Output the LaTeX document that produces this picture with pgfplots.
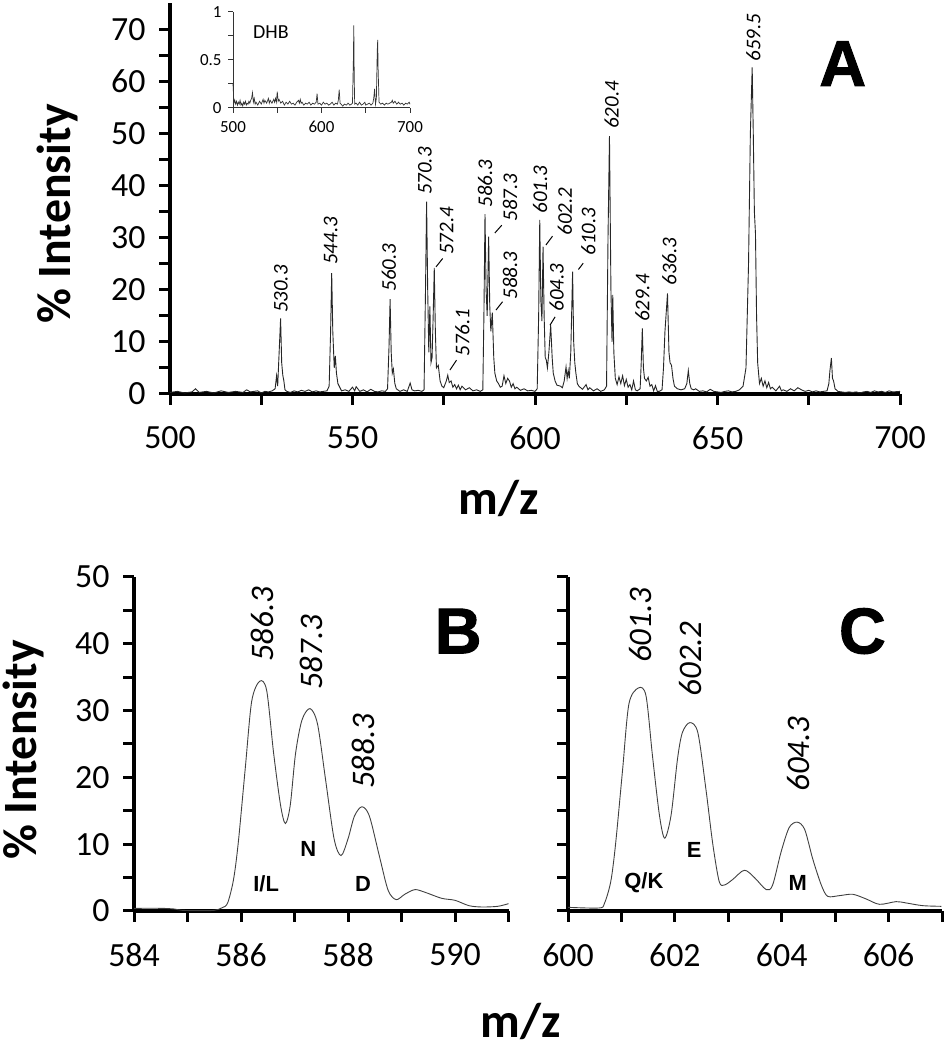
\documentclass[border=0pt]{standalone}
\usepackage{fontspec}
\setmainfont{Carlito}
\newfontfamily\lsans{Liberation Sans}
\newfontfamily\heavy{Liberation Sans}[BoldFeatures={FakeBold=1.5}]
\usepackage{pgfplots}
\pgfplotsset{compat=1.18}
\pgfplotsset{
  spec/.style={scale only axis, axis lines=left, axis line style={-, line width=3.2bp, black},
    every tick/.style={black, line width=3bp}, major tick style={black, line width=3bp},
    minor tick style={black, line width=3bp}, tick align=outside,
    major tick length=11bp, minor tick length=11bp, clip=false,
    /pgf/number format/assume math mode=true,
    tick label style={font=\fontsize{34}{34}\selectfont},
    xticklabel style={yshift=-18bp}, yticklabel style={xshift=-10bp}},
}
\tikzset{
  plab/.style={rotate=90, font=\fontsize{21}{21}\selectfont\itshape, inner sep=0pt},
  blab/.style={rotate=90, font=\fontsize{33}{33}\selectfont\itshape, inner sep=0pt},
  aa/.style={font=\lsans\bfseries\fontsize{22}{22}\selectfont, inner sep=0pt},
  big/.style={font=\heavy\bfseries\fontsize{65}{65}\selectfont, inner sep=0pt},
}
\begin{document}
\begin{tikzpicture}[x=1bp,y=1bp]
\useasboundingbox (0,0) rectangle (945,1050);
% ---------------- Panel A ----------------
\begin{axis}[spec, at={(170bp,656bp)}, anchor=south west, width=730bp, height=390.75bp,
  xmin=500, xmax=700, ymin=0, ymax=75,
  xtick={500,550,600,650,700}, minor xtick={525,575,625,675},
  ytick={0,10,...,70}, minor ytick={5,15,...,65}]
\addplot[black!85, line width=0.9bp] coordinates {
(500,0.3)(502,0.5)(504,0.2)(506,0.4)(507,1.0)(508,0.3)(510,0.5)(512,0.2)(514,0.6)(516,0.3)(518,0.5)(520,0.3)(521,0.8)(522,0.4)(524,0.6)(525,0.2)(526,0.5)(527,0.4)(528,0.6)
(528.8,1.0)(529.2,3.5)(529.5,1.5)(529.9,8)(530.3,14.5)(530.6,6)(530.9,3.6)(531.2,2.5)(531.5,0.8)(532,0.5)(533,0.3)(534,0.6)(535,0.4)(536,0.7)(537,0.5)(538,0.8)(539,0.4)(540,0.6)(541,0.4)(542,0.5)(543,0.6)
(543.6,1.5)(544,12)(544.3,23.2)(544.6,12)(545,5)(545.3,7.3)(545.6,4)(546,2)(546.5,1.3)(547,0.6)(548,0.8)(549,0.5)(550,1.3)(550.6,0.6)(551,1.4)(552,0.5)(553,0.8)(554,0.4)(555,0.9)(556,0.5)(557,0.4)(558,0.6)(559,0.5)
(559.6,1)(560,9)(560.3,18.2)(560.6,8)(560.9,4)(561.2,4.8)(561.6,2)(562,1)(563,0.5)(564,0.8)(565,0.5)(565.8,2.1)(566.3,0.8)(567,0.6)(568,0.7)(569,0.5)
(569.6,0.8)(570,20)(570.3,36.9)(570.6,20)(570.9,8)(571.2,16.8)(571.5,6)(571.8,7)(572.1,15)(572.4,24.2)(572.7,12)(573,5)(573.5,5.5)(574,2.5)(574.5,1.5)(575,1.2)(575.7,2.5)(576.1,3.6)(576.5,2.2)(577,2.5)(577.5,1.3)(578,1.8)(578.5,1)(579,1.7)(579.5,0.8)(580,1.5)(581,0.8)(582,1.2)(583,0.6)(584,0.8)(585,0.5)
(585.7,0.8)(586,15)(586.3,34.5)(586.6,20)(586.9,15)(587.3,30.2)(587.6,17)(587.9,12)(588.3,15.6)(588.7,7)(589,4)(589.5,2.5)(590,2)(590.5,1.3)(591,1.5)(591.5,3.5)(592,2)(592.5,3)(593,2.5)(593.5,1.3)(594,2)(594.5,1)(595,1.3)(596,0.7)(597,1)(598,0.6)(599,0.7)(600,0.5)
(600.6,1)(601,15)(601.3,33.4)(601.6,18)(601.9,14)(602.2,28.3)(602.5,15)(602.8,7)(603.1,6.5)(603.4,5)(603.8,8)(604.3,13.2)(604.7,7)(605,4)(605.5,2.5)(606,1.7)(607,1.5)(607.5,1.2)(608,2.5)(608.5,5.2)(608.8,3)(609.1,4.5)(609.4,3)(609.8,8)(610.3,23.5)(610.6,10)(610.9,6)(611.2,4)(611.6,2)(612,1.5)(613,0.9)(614,1.8)(614.5,0.8)(615,1.2)(616,0.6)(617,1)(618,0.5)(619,0.8)
(619.6,1.5)(620,30)(620.4,49.5)(620.8,20)(621.1,10)(621.3,19)(621.6,8)(622,3)(622.5,1.8)(623,3.3)(623.5,2)(624,3.5)(624.5,1.6)(625,2.8)(625.5,1.3)(626,1.8)(626.5,0.8)(627,2.5)(627.5,0.8)(628,0.6)
(628.8,1)(629.1,6)(629.4,12.6)(629.7,5)(630,3)(630.5,2.5)(631,3.2)(631.5,1.5)(632,1.8)(632.5,0.6)(633,1.6)(633.5,0.5)(634,0.5)
(634.8,0.8)(635.2,5)(635.6,12)(636.3,19.3)(636.7,8)(637,6)(637.4,5.5)(637.8,3)(638.2,1.5)(639,1)(640,0.8)(641,1)(641.6,2)(642,4.5)(642.4,2)(642.8,1)(643.5,0.8)(644,1)(645,0.5)(646,0.6)(647,0.4)(648,0.9)(649,0.5)(650,0.4)(651,0.3)(652,0.5)(653,0.6)(654,0.4)(655,0.5)(656,0.8)
(657,1.5)(657.8,5)(658.5,25)(659,50)(659.5,62.7)(659.8,50)(660.1,35)(660.4,30.8)(660.7,15)(661,6)(661.5,2)(662,3)(662.5,1.5)(663,2.5)(663.5,1.2)(664,2.2)(664.5,1)(665,1.3)(666,0.6)(667,1.5)(667.5,0.6)(668,0.8)(669,0.5)(670,1)(671,0.6)(672,1.2)(673,0.8)(674,0.5)(675,0.7)(676,0.4)(677,0.6)(678,0.4)(679,0.5)(680,0.6)
(680.5,2)(680.8,4.5)(681.2,6.9)(681.5,3)(681.8,2.5)(682.2,1)(683,0.5)(684,0.4)(685,0.3)(686,0.4)(687,0.3)(688,0.4)(689,0.2)(690,0.4)(691,0.5)(692,0.3)(693,0.6)(694,0.4)(695,0.5)(696,0.3)(697,0.6)(698,0.4)(700,0.5)
};
\node[plab] at (axis cs:530.36,20.15) {530.3};
\node[plab] at (axis cs:544.05,29.4) {544.3};
\node[plab] at (axis cs:560.0,24.3) {560.3};
\node[plab] at (axis cs:569.86,42.8) {570.3};
\node[plab] at (axis cs:575.8,31.3) {572.4};
\node[plab] at (axis cs:580.1,11.8) {576.1};
\node[plab] at (axis cs:586.3,40.4) {586.3};
\node[plab] at (axis cs:593.15,37.7) {587.3};
\node[plab] at (axis cs:593.15,22.7) {588.3};
\node[plab] at (axis cs:601.4,39.2) {601.3};
\node[plab] at (axis cs:608.2,35.0) {602.2};
\node[plab] at (axis cs:605.9,20.4) {604.3};
\node[plab] at (axis cs:614.6,31.2) {610.3};
\node[plab] at (axis cs:621.0,55.5) {620.4};
\node[plab] at (axis cs:629.45,18.4) {629.4};
\node[plab] at (axis cs:636.8,25.4) {636.3};
\node[plab] at (axis cs:659.8,68.4) {659.5};
\draw[line width=1bp] (axis cs:572.88,24.4) -- (axis cs:574.7,26.0);
\draw[line width=1bp] (axis cs:576.7,4.6) -- (axis cs:578.5,6.5);
\draw[line width=1bp] (axis cs:589.0,30.9) -- (axis cs:590.9,32.4);
\draw[line width=1bp] (axis cs:589.3,16.1) -- (axis cs:591.1,17.7);
\draw[line width=1bp] (axis cs:603.0,28.6) -- (axis cs:604.8,30.3);
\draw[line width=1bp] (axis cs:604.1,13.2) -- (axis cs:605.5,14.8);
\draw[line width=1bp] (axis cs:611.9,23.9) -- (axis cs:613.2,25.1);
\node[big] at (axis cs:684.3,63.4) {A};
\end{axis}
% ---------------- Inset ----------------
\begin{axis}[scale only axis, at={(233bp,942bp)}, anchor=south west, width=177bp, height=96bp,
  axis lines=left, axis line style={-, line width=1bp, black!80},
  every tick/.style={black!80, line width=1bp}, tick align=outside,
  major tick length=5bp, minor tick length=5bp,
  xmin=500, xmax=700, ymin=0, ymax=1,
  xtick={500,600,700}, minor xtick={550,650},
  ytick={0,0.5,1}, minor ytick={0.25,0.75},
  /pgf/number format/assume math mode=true,
  tick label style={font=\fontsize{17}{17}\selectfont},
  xticklabel style={yshift=-5bp}, yticklabel style={xshift=-3bp}, clip=false]
\addplot[black!80, line width=0.7bp] coordinates {
(500,0.25)(501,0.05)(502,0.08)(503,0.04)(504,0.07)(505,0.03)(506,0.06)(507,0.04)(508,0.08)(509,0.03)(510,0.05)(511,0.02)(512,0.06)(513,0.04)(514,0.07)(515,0.03)(516,0.05)(517,0.04)(518,0.07)(519,0.05)(520,0.08)(521,0.1)(522,0.16)(523,0.06)(524,0.1)(525,0.04)(526,0.06)(528,0.03)(530,0.07)(532,0.04)(534,0.09)(535,0.05)(536,0.08)(538,0.05)(540,0.1)(541,0.05)(542,0.08)(544,0.05)(546,0.09)(547,0.06)(548,0.1)(549,0.06)(550,0.17)(551,0.07)(552,0.09)(554,0.05)(556,0.07)(558,0.03)(560,0.06)(562,0.04)(564,0.07)(566,0.04)(568,0.05)(570,0.03)(572,0.06)(574,0.08)(575,0.05)(576,0.09)(577,0.05)(578,0.06)(580,0.03)(582,0.05)(584,0.04)(586,0.06)(588,0.03)(590,0.05)(592,0.04)(594,0.06)(595,0.15)(596,0.04)(598,0.05)(600,0.03)(602,0.06)(604,0.04)(606,0.05)(608,0.03)(610,0.04)(612,0.06)(614,0.03)(616,0.05)(618,0.04)(619,0.08)(620,0.19)(621,0.05)(622,0.04)(624,0.02)(626,0.04)(628,0.03)(630,0.05)(632,0.03)(634,0.04)(635,0.05)(636,0.5)(636.5,0.86)(637,0.3)(637.5,0.04)(639,0.05)(641,0.03)(643,0.06)(645,0.03)(647,0.04)(649,0.06)(650,0.03)(652,0.04)(654,0.05)(656,0.03)(658,0.05)(659,0.1)(660,0.2)(661,0.04)(662,0.1)(663,0.6)(663.5,0.71)(664,0.4)(665,0.06)(667,0.04)(669,0.05)(671,0.03)(673,0.05)(675,0.04)(677,0.05)(679,0.06)(680,0.08)(681,0.05)(683,0.07)(685,0.04)(687,0.06)(689,0.04)(691,0.05)(693,0.03)(695,0.05)(697,0.04)(699,0.06)(700,0.04)
};
\node[font=\fontsize{20}{20}\selectfont] at (axis cs:542.9,0.795) {DHB};
\end{axis}
% ---------------- Panel B ----------------
\begin{axis}[spec, at={(134bp,139bp)}, anchor=south west, width=374.5bp, height=334bp,
  xmin=584, xmax=591, ymin=0, ymax=50,
  xtick={584,586,588,590}, minor xtick={585,587,589,591},
  ytick={0,10,...,50}, minor ytick={5,15,...,45}]
\addplot[black!75, line width=0.9bp, smooth] coordinates {
(584,0.4)(584.5,0.4)(584.75,0.3)(584.9,0.1)(585.2,0.05)(585.5,0.1)(585.65,0.5)(585.75,1.2)(585.86,4.7)(585.95,10.3)(586.08,21.4)(586.2,31.4)(586.35,34.4)(586.48,33)(586.61,23.6)(586.74,15.8)(586.83,13.1)(586.92,15.8)(587.02,23.6)(587.14,28.6)(587.29,30.3)(587.43,28)(587.58,19.7)(587.74,10.8)(587.87,8.3)(588.0,10.8)(588.12,14.2)(588.26,15.6)(588.4,14.2)(588.59,8.1)(588.75,3.1)(588.9,1.7)(589.06,2.5)(589.25,3.2)(589.44,2.8)(589.75,1.9)(590,1.6)(590.26,0.8)(590.5,0.6)(590.8,0.7)(591,1.1)
};
\node[blab] at (axis cs:586.40,42.9) {586.3};
\node[blab] at (axis cs:587.32,38.7) {587.3};
\node[blab] at (axis cs:588.29,23.9) {588.3};
\node[aa] at (axis cs:586.47,4.0) {I/L};
\node[aa] at (axis cs:587.26,9.3) {N};
\node[aa] at (axis cs:588.28,4.0) {D};
\node[big] at (axis cs:590.06,41.9) {B};
\end{axis}
% ---------------- Panel C ----------------
\begin{axis}[spec, at={(568bp,139bp)}, anchor=south west, width=374bp, height=334bp,
  xmin=600, xmax=607, ymin=0, ymax=50,
  xtick={600,602,604,606}, minor xtick={601,603,605,607},
  ytick={0,10,...,50}, minor ytick={5,15,...,45}, yticklabels={}]
\addplot[black!75, line width=0.9bp, smooth] coordinates {
(600,0.55)(600.58,0.45)(600.68,1.1)(600.8,4.4)(600.89,10)(601.02,21)(601.14,31)(601.32,33.4)(601.46,32.2)(601.58,23.3)(601.71,14.4)(601.81,10.9)(601.93,14.4)(602.05,22.8)(602.14,26.7)(602.28,28.2)(602.43,26.7)(602.58,18.3)(602.71,10)(602.83,4.4)(602.93,3.9)(603.08,4.7)(603.3,6.1)(603.49,5)(603.71,3.2)(603.83,3.9)(603.99,8.9)(604.14,12.5)(604.29,13.3)(604.43,12.2)(604.58,7.8)(604.74,3.9)(604.86,2.2)(605.08,2.3)(605.33,2.5)(605.58,1.8)(605.83,1)(606.14,1.4)(606.33,1.2)(606.64,0.8)(606.99,0.7)
};
\node[blab] at (axis cs:601.36,42.75) {601.3};
\node[blab] at (axis cs:602.30,37.75) {602.2};
\node[blab] at (axis cs:604.32,23.5) {604.3};
\node[aa] at (axis cs:601.42,4.2) {Q/K};
\node[aa] at (axis cs:602.36,9.2) {E};
\node[aa] at (axis cs:604.30,4.2) {M};
\node[big] at (axis cs:605.51,41.9) {C};
\end{axis}
% ---------------- Axis titles ----------------
\node[rotate=90, font=\bfseries\fontsize{48}{48}\selectfont, inner sep=0pt] at (57,836) {\% Intensity};
\node[rotate=90, font=\bfseries\fontsize{48}{48}\selectfont, inner sep=0pt] at (23,300) {\% Intensity};
\node[anchor=base, font=\bfseries\fontsize{49}{49}\selectfont, inner sep=0pt] at (499,535) {m/z};
\node[anchor=base, font=\bfseries\fontsize{49}{49}\selectfont, inner sep=0pt] at (521,12) {m/z};
\end{tikzpicture}
\end{document}
